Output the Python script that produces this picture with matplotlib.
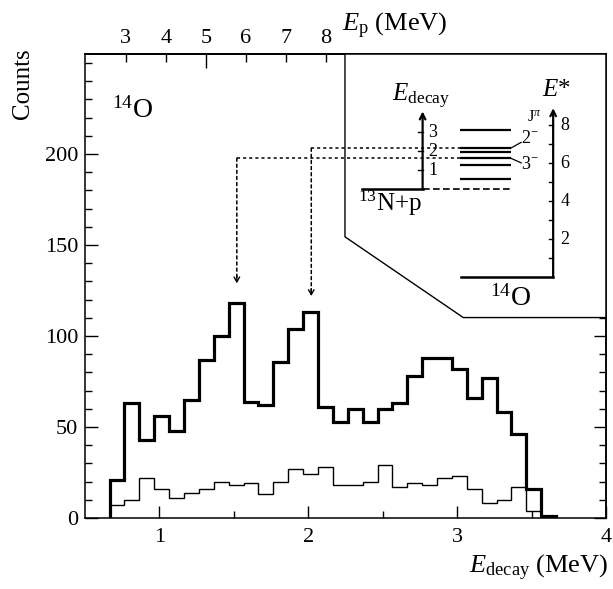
import matplotlib

matplotlib.use("Agg")

import matplotlib.pyplot as plt
import numpy as np
from matplotlib.patches import ConnectionPatch, Polygon

plt.rcParams["font.family"] = ["Liberation Serif", "DejaVu Serif"]
plt.rcParams["mathtext.fontset"] = "custom"
plt.rcParams["mathtext.rm"] = "Liberation Serif"
plt.rcParams["mathtext.it"] = "Liberation Serif:italic"

# histogram, 0.1 MeV bins starting at 0.665 MeV
BIN_START = 0.665
BIN_WIDTH = 0.1
thick_counts = [21, 63, 43, 56, 48, 65, 87, 100, 118, 64, 62, 86, 104, 113, 61,
                53, 60, 53, 60, 63, 78, 88, 88, 82, 66, 77, 58, 46, 16, 1]
thin_counts = [7, 10, 22, 16, 11, 14, 16, 20, 18, 19, 13, 20, 27, 24, 28,
               18, 18, 20, 29, 17, 19, 18, 22, 23, 16, 8, 10, 17, 4, 0]

# top axis: proton energy, linear in E_decay
EP_SLOPE = 3.715
EP_OFFSET = 0.128
ep_ticks = [3, 4, 5, 6, 7, 8]

# level scheme of 14O (E* in MeV)
threshold = 4.63
levels = [5.17, 5.92, 6.27, 6.59, 6.79, 7.77]
estar_ticks = [1, 2, 3, 4, 5, 6, 7, 8]
estar_labels = [2, 4, 6, 8]
decay_ticks = [1, 2, 3]

# peaks marked by arrows: (E_decay, level E*, arrow tip counts)
arrow_energy = [1.52, 2.02]
arrow_level = [6.27, 6.79]
arrow_tip = [129, 122]


def main():
    fig = plt.figure(figsize=(6.13, 5.89), dpi=100)
    rect = [85 / 613, 71 / 589, 521 / 613, 464 / 589]
    ax = fig.add_axes(rect)

    edges = BIN_START + BIN_WIDTH * np.arange(len(thick_counts) + 1)
    ax.stairs(thin_counts, edges, color="black", linewidth=1.0, baseline=0)
    ax.stairs(thick_counts, edges, color="black", linewidth=2.3, baseline=0)

    ax.set_xlim(0.5, 4)
    ax.set_ylim(0, 255)
    ax.set_xticks([1, 2, 3, 4])
    ax.set_xticks(np.arange(1.5, 4, 1.0), minor=True)
    ax.set_yticks([0, 50, 100, 150, 200])
    ax.set_yticks(np.arange(10, 255, 10), minor=True)
    ax.tick_params(which="both", direction="in", right=True, top=False,
                   labelsize=16, width=1.0)
    ax.tick_params(which="major", length=9)
    ax.tick_params(which="minor", length=5)
    ax.tick_params(axis="x", pad=7)
    ax.tick_params(axis="y", pad=5)
    for s in ax.spines.values():
        s.set_linewidth(1.1)

    ax.text(0.68, 220, r"$^{14}$O", fontsize=20, va="baseline")

    secax = ax.secondary_xaxis(
        "top",
        functions=(lambda e: EP_SLOPE * e + EP_OFFSET,
                   lambda p: (p - EP_OFFSET) / EP_SLOPE),
    )
    secax.set_xticks([5], labels=["5"])
    minor_ep = [t for t in ep_ticks if t != 5]
    secax.set_xticks(minor_ep, labels=[str(t) for t in minor_ep], minor=True)
    secax.tick_params(which="both", direction="in", labelsize=16, width=1.0, pad=4)
    secax.tick_params(which="major", length=10)
    secax.tick_params(which="minor", length=6)
    secax.spines["top"].set_linewidth(1.1)

    fig.text(342 / 613, 1 - 26 / 589, r"$E_{\rm p}$ (MeV)", fontsize=19,
             ha="left", va="center")
    fig.text(23 / 613, 1 - 48 / 589, "Counts", fontsize=18, rotation=90,
             ha="center", va="top")
    fig.text(608 / 613, 1 - 568 / 589, r"$E_{\rm decay}$ (MeV)", fontsize=19,
             ha="right", va="center")

    # inset level scheme, drawn on an overlay axes with y in E* (MeV)
    ins = fig.add_axes(rect, facecolor="none")
    ins.set_xlim(0.5, 4)
    ins.set_ylim(-12.67, 11.75)
    ins.set_xticks([])
    ins.set_yticks([])
    ins.spines["left"].set_visible(False)
    ins.spines["bottom"].set_visible(False)
    ins.spines["top"].set_linewidth(1.1)
    ins.spines["right"].set_linewidth(1.1)

    box = [(0.499, 1.0), (0.499, 0.606), (0.726, 0.432), (1.0, 0.432), (1.0, 1.0)]
    ins.add_patch(Polygon(box, closed=True, transform=ins.transAxes,
                          facecolor="white", edgecolor="none", zorder=1))
    bx, by = zip(*box[:4])
    ins.plot(bx, by, color="black", lw=1.0, transform=ins.transAxes,
             clip_on=False, zorder=2)

    estar_x = 3.645
    tick_len = 0.03
    ins.annotate("", xy=(estar_x, 8.9), xytext=(estar_x, 0),
                 arrowprops=dict(arrowstyle="->,head_length=0.4,head_width=0.2",
                                 lw=1.6, color="black", shrinkA=0, shrinkB=0))
    for e in estar_ticks:
        ins.plot([estar_x - tick_len, estar_x], [e, e], color="black", lw=1.0)
    for e in estar_labels:
        ins.text(estar_x + 0.05, e, str(e), fontsize=13, ha="left", va="center")
    ins.plot([3.023, estar_x], [0, 0], color="black", lw=1.8)
    ins.text(3.36, -1.1, r"$^{14}$O", fontsize=20, ha="center", va="center")
    ins.text(3.67, 9.85, r"$E$*", fontsize=18, ha="center", va="center")
    ins.text(3.52, 8.4, r"J$^{\pi}$", fontsize=12, ha="center", va="center")

    decay_x = 2.768
    ins.annotate("", xy=(decay_x, threshold + 4.1), xytext=(decay_x, threshold),
                 arrowprops=dict(arrowstyle="->,head_length=0.4,head_width=0.2",
                                 lw=1.6, color="black", shrinkA=0, shrinkB=0))
    for d in decay_ticks:
        ins.plot([decay_x - tick_len, decay_x], [threshold + d] * 2,
                 color="black", lw=1.0)
        ins.text(decay_x + 0.04, threshold + d, str(d), fontsize=13,
                 ha="left", va="center")
    ins.text(2.76, 9.5, r"$E_{\rm decay}$", fontsize=18, ha="center", va="center")
    ins.plot([2.358, decay_x], [threshold] * 2, color="black", lw=1.8)
    ins.plot([decay_x, 3.359], [threshold] * 2, color="black", lw=1.2,
             linestyle=(0, (4, 2)))
    ins.text(2.55, 3.9, r"$^{13}$N+p", fontsize=18, ha="center", va="center")

    ins.hlines(levels, 3.018, 3.359, color="black", lw=1.6)
    ins.plot([3.359, 3.43], [6.79, 7.1], color="black", lw=0.9)
    ins.text(3.43, 7.3, r"2$^{-}$", fontsize=13, ha="left", va="center")
    ins.plot([3.359, 3.43], [6.27, 6.02], color="black", lw=0.9)
    ins.text(3.43, 5.95, r"3$^{-}$", fontsize=13, ha="left", va="center")

    dot = (0, (2, 2))
    for e, lv, tip in zip(arrow_energy, arrow_level, arrow_tip):
        ins.plot([e, 3.018], [lv, lv], color="black", lw=1.1, linestyle=dot)
        con = ConnectionPatch(xyA=(e, lv), coordsA=ins.transData,
                              xyB=(e, tip + 2), coordsB=ax.transData,
                              color="black", lw=1.1, linestyle=dot)
        ins.add_artist(con)
        ax.annotate("", xy=(e, tip), xytext=(e, tip + 4),
                    arrowprops=dict(arrowstyle="->,head_length=0.35,head_width=0.2",
                                    lw=1.0, color="black", shrinkA=0, shrinkB=0))

    fig.savefig("out.png", dpi=100)
    plt.close(fig)


if __name__ == "__main__":
    main()
